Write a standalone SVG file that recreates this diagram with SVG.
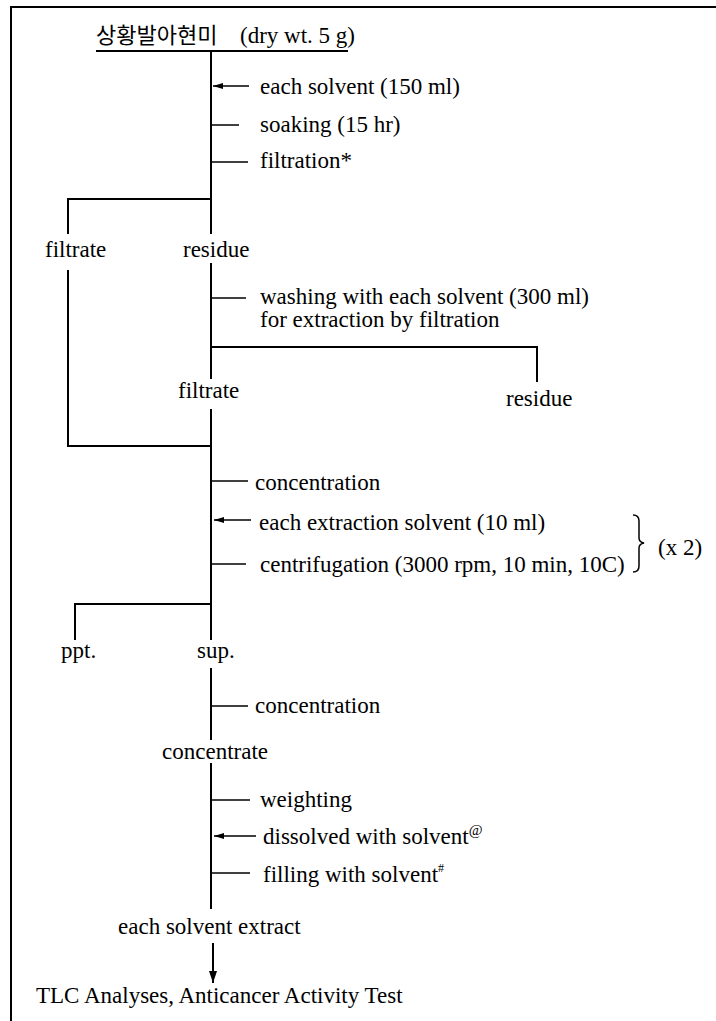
<svg xmlns="http://www.w3.org/2000/svg" width="716" height="1021" viewBox="0 0 716 1021">
<defs>
<style>
text{font-family:"Liberation Serif","Noto Sans CJK KR",serif;font-size:23px;fill:#000}
.ko{font-family:"Noto Sans CJK KR","Liberation Serif",sans-serif;font-size:22px}
.ln{stroke:#000;stroke-width:2;fill:none}
.thin{stroke:#000;stroke-width:1.5;fill:none}
</style>
<marker id="ah" viewBox="0 0 10 6" refX="10" refY="3" markerWidth="10" markerHeight="6" markerUnits="userSpaceOnUse" orient="auto"><path d="M0,0 L10,3 L0,6 Z" fill="#000"/></marker>
<marker id="ahd" viewBox="0 0 12 8" refX="12" refY="4" markerWidth="12" markerHeight="8" markerUnits="userSpaceOnUse" orient="auto"><path d="M0,0 L12,4 L0,8 Z" fill="#000"/></marker>
</defs>
<rect width="716" height="1021" fill="#fff"/>
<g id="frame"><path class="ln" d="M11,1021 V7 H716"/></g>
<g id="connectors">
<path class="ln" d="M96,51 H348"/>
<path class="ln" d="M211,51 V234"/>
<path class="thin" d="M249,86 H213" marker-end="url(#ah)"/>
<path class="thin" d="M211,125 H239"/>
<path class="thin" d="M211,162 H248"/>
<path class="ln" d="M68,234 V199 H211"/>
<path class="ln" d="M211,263 V379"/>
<path class="thin" d="M211,298 H246"/>
<path class="ln" d="M211,347 H537 V382"/>
<path class="ln" d="M68,270 V446 H211"/>
<path class="ln" d="M211,409 V640"/>
<path class="thin" d="M211,481 H248"/>
<path class="thin" d="M251,520 H214" marker-end="url(#ah)"/>
<path class="thin" d="M211,564 H246"/>
<path class="ln" d="M75,640 V604 H211"/>
<path class="ln" d="M211,668 V740"/>
<path class="thin" d="M211,706 H248"/>
<path class="ln" d="M211,763 V909"/>
<path class="thin" d="M211,800 H250"/>
<path class="thin" d="M256,836 H214" marker-end="url(#ah)"/>
<path class="thin" d="M211,873 H250"/>
<path class="ln" d="M213,943 V983" marker-end="url(#ahd)"/>
<path class="thin" d="M633,515 q6,0 6,6 v17 q0,4 5,5 q-5,1 -5,5 v18 q0,6 -6,6"/>
</g>
<g id="n-start"><text x="96" y="43"><tspan class="ko">상황발아현미</tspan><tspan x="240">(dry wt. 5 g)</tspan></text></g>
<g id="n-s1"><text x="260" y="94">each solvent (150 ml)</text></g>
<g id="n-s2"><text x="260" y="132">soaking (15 hr)</text></g>
<g id="n-s3"><text x="260" y="168">filtration*</text></g>
<g id="n-filtrate1"><text x="45" y="257">filtrate</text></g>
<g id="n-residue1"><text x="183" y="257">residue</text></g>
<g id="n-wash"><text x="260" y="304">washing with each solvent (300 ml)</text><text x="260" y="327">for extraction by filtration</text></g>
<g id="n-filtrate2"><text x="178" y="398">filtrate</text></g>
<g id="n-residue2"><text x="506" y="406">residue</text></g>
<g id="n-conc1"><text x="255" y="490">concentration</text></g>
<g id="n-ext"><text x="259" y="530">each extraction solvent (10 ml)</text></g>
<g id="n-cent"><text x="260" y="572">centrifugation (3000 rpm, 10 min, 10C)</text></g>
<g id="n-x2"><text x="658" y="555">(x 2)</text></g>
<g id="n-ppt"><text x="61" y="658">ppt.</text></g>
<g id="n-sup"><text x="197" y="658">sup.</text></g>
<g id="n-conc2"><text x="255" y="713">concentration</text></g>
<g id="n-concentrate"><text x="162" y="759">concentrate</text></g>
<g id="n-weight"><text x="260" y="807">weighting</text></g>
<g id="n-diss"><text x="263" y="844">dissolved with solvent<tspan dy="-9" font-size="15">@</tspan></text></g>
<g id="n-fill"><text x="263" y="882">filling with solvent<tspan dy="-10" font-size="12">#</tspan></text></g>
<g id="n-extract"><text x="118" y="934">each solvent extract</text></g>
<g id="n-tlc"><text x="36" y="1003">TLC Analyses, Anticancer Activity Test</text></g>
</svg>
